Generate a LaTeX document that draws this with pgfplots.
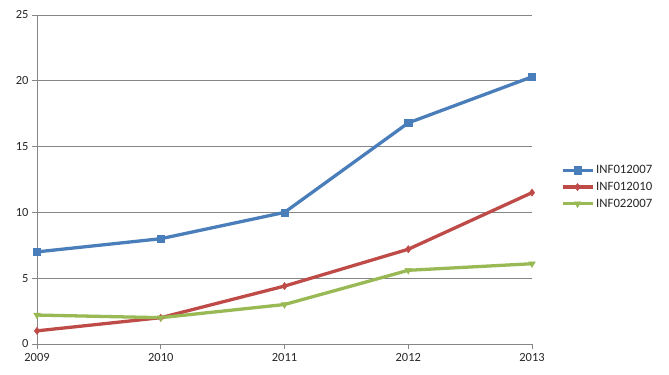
\documentclass[border=0pt]{standalone}
\usepackage{fontspec}
\setmainfont{Carlito}
\usepackage{pgfplots}
\pgfplotsset{compat=1.18}
\definecolor{cblue}{HTML}{4A7EBB}
\definecolor{cred}{HTML}{BE4B48}
\definecolor{cgreen}{HTML}{98B954}
\definecolor{cgrid}{HTML}{868686}
\begin{document}
\begin{tikzpicture}[x=1bp,y=1bp]
\begin{axis}[
  at={(37bp,31bp)}, anchor=south west,
  scale only axis, width=495bp, height=329bp,
  xmin=2009, xmax=2013, ymin=0, ymax=25,
  xtick={2009,2010,2011,2012,2013},
  ytick={0,5,10,15,20,25},
  /pgf/number format/1000 sep={},
  /pgf/number format/assume math mode=true,
  ymajorgrids, major grid style={cgrid, line width=0.8pt},
  axis x line*=bottom, axis y line*=left,
  axis line style={cgrid, line width=0.8pt, -},
  tick style={cgrid, line width=0.8pt},
  tick align=outside, major tick length=5bp,
  ticklabel style={font=\fontsize{12.5}{14}\selectfont, text=black!85},
  xticklabel style={yshift=-1bp},
  legend style={draw=none, fill=none, at={(1.052,0.477)}, anchor=west,
    font=\fontsize{12.8}{15}\selectfont, row sep=3pt, text=black!85},
  legend cell align=left,
  legend image code/.code={\draw[mark repeat=2,mark phase=2] plot coordinates {(0bp,0bp) (15bp,0bp) (30bp,0bp)};},
  every axis plot/.append style={line width=3.3pt},
]
\addplot[cblue, mark=square*, mark size=3.6pt, mark options={line width=0.5pt}] coordinates {(2009,7.0) (2010,8.0) (2011,10.0) (2012,16.8) (2013,20.3)};
\addplot[cred, mark=diamond*, mark size=3.6pt, mark options={line width=0.5pt}] coordinates {(2009,1.0) (2010,2.0) (2011,4.4) (2012,7.2) (2013,11.5)};
\addplot[cgreen, mark=triangle*, mark size=3.8pt, mark options={rotate=180, line width=0.5pt}] coordinates {(2009,2.2) (2010,2.0) (2011,3.0) (2012,5.6) (2013,6.1)};
\legend{INF012007,INF012010,INF022007}
\end{axis}
\pgfresetboundingbox
\path (0,0) rectangle (669bp,375bp);
\end{tikzpicture}
\end{document}
